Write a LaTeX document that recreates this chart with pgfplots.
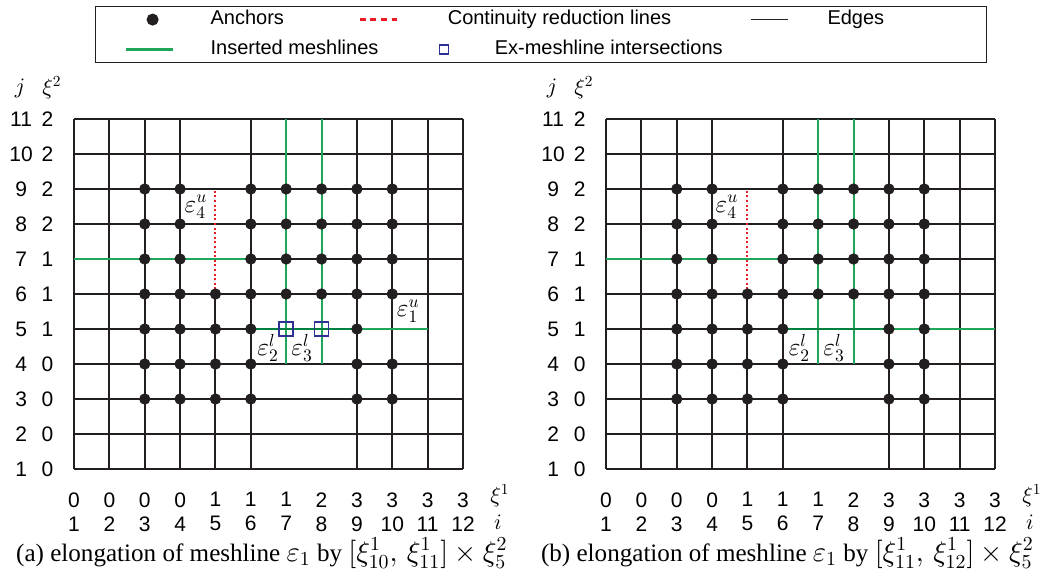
\documentclass[border=0pt]{standalone}
\usepackage[no-math]{fontspec}
\setmainfont{Liberation Serif}
\newfontfamily\sansf{Liberation Sans}
\DeclareFontShape{OML}{cmm}{m}{it}{<->cmmi10}{}
\DeclareFontShape{OMS}{cmsy}{m}{n}{<->cmsy10}{}
\DeclareFontShape{OT1}{cmr}{m}{n}{<->cmr10}{}
\DeclareFontShape{OMX}{cmex}{m}{n}{<->cmex10}{}
\usepackage{pgfplots}
\pgfplotsset{compat=1.18}
\definecolor{edgec}{HTML}{231F20}
\definecolor{insc}{HTML}{1FA65A}
\definecolor{insdark}{HTML}{00803F}
\definecolor{redc}{HTML}{ED1C24}
\definecolor{bluec}{HTML}{2E3192}
\newcommand{\yl}[2]{\makebox[20.5pt][c]{#1}\makebox[6pt][c]{#2}}
\newcommand{\capmath}[1]{{\fontsize{14.2}{16}\selectfont$#1$}}
\pgfplotsset{
  meshaxis/.style={
    scale only axis, width=194.5pt, height=175pt,
    xmin=1, xmax=12, ymin=1, ymax=11,
    axis line style={draw=none}, tick style={draw=none}, major tick length=0pt,
    clip=false, unbounded coords=jump,
    xtick={1,...,12}, ytick={1,...,11},
    xticklabels={{0\\1},{0\\2},{0\\3},{0\\4},{1\\5},{1\\6},{1\\7},{2\\8},{3\\9},{3\\10},{3\\11},{3\\12}},
    yticklabels={{\yl{1}{0}},{\yl{2}{0}},{\yl{3}{0}},{\yl{4}{0}},{\yl{5}{1}},{\yl{6}{1}},{\yl{7}{1}},{\yl{8}{2}},{\yl{9}{2}},{\yl{10}{2}},{\yl{11}{2}}},
    ticklabel style={font=\fontsize{10.5}{12}\sansf, inner sep=0pt},
    xticklabel style={align=center, anchor=north, yshift=-11.5pt},
    yticklabel style={anchor=east, xshift=-10pt},
    edge/.style={color=edgec, line width=1pt, no markers},
    ins/.style={color=insc, line width=1pt, no markers},
    insd/.style={color=insdark, line width=1.3pt, no markers},
    crl/.style={color=redc, line width=1pt, dash pattern=on 1pt off 1.3pt, no markers},
    anc/.style={only marks, mark=*, mark size=2.6pt, color=edgec},
    exm/.style={only marks, mark=square, mark size=3.5pt, color=bluec, mark options={line width=0.7pt}},
  }
}
\begin{document}
\begin{tikzpicture}
\path[use as bounding box] (0pt,0pt) rectangle (521pt,-287.5pt);
% ---------------- (a) ----------------
\begin{axis}[meshaxis, at={(37pt,-234.5pt)}, anchor=south west,
  legend columns=3, legend cell align=left,
  legend style={at={(0.054,1.3229)}, anchor=north west, inner xsep=0pt, inner ysep=0.5pt,
    draw=edgec, line width=0.6pt, row sep=3pt, column sep=0pt,
    nodes={draw=none, fill=none, inner sep=0pt, text height=8.4pt, text depth=3.6pt},
    font=\fontsize{10}{12}\sansf}]
\addlegendimage{legend image code/.code={\path[draw=none,fill=none] (0pt,-6pt) rectangle (57.5pt,6pt);
  \draw[only marks, mark=*, mark size=2.7pt, color=edgec] plot coordinates {(28.5pt,0pt)};}}
\addlegendentry{\makebox[74pt][l]{Anchors}}
\addlegendimage{legend image code/.code={\path[draw=none,fill=none] (0pt,-6pt) rectangle (42.5pt,6pt);
  \draw[color=redc, line width=1.2pt, dash pattern=on 3pt off 2.3pt] (-1.5pt,0pt) -- (17pt,0pt);}}
\addlegendentry{\makebox[151pt][l]{Continuity reduction lines}}
\addlegendimage{legend image code/.code={\path[draw=none,fill=none] (0pt,-6pt) rectangle (36.5pt,6pt);
  \draw[color=edgec, line width=0.7pt] (-2pt,0pt) -- (16.5pt,0pt);}}
\addlegendentry{\makebox[79.5pt][l]{Edges}}
\addlegendimage{legend image code/.code={\path[draw=none,fill=none] (0pt,-6pt) rectangle (57.5pt,6pt);
  \draw[color=insc, line width=1.3pt] (15pt,0pt) -- (38.5pt,0pt);}}
\addlegendentry{\makebox[74pt][l]{Inserted meshlines}}
\addlegendimage{legend image code/.code={\path[draw=none,fill=none] (0pt,-6pt) rectangle (42.5pt,6pt);
  \begin{scope}[overlay]\draw[only marks, mark=square, mark size=2.2pt, color=bluec, line width=0.7pt] plot coordinates {(40.5pt,0pt)};\end{scope}}}
\addlegendentry{\makebox[151pt][l]{\hspace*{23.5pt}Ex-meshline intersections}}
% edges
\addplot[edge, forget plot] coordinates {
(1,1)(1,11) (nan,nan) (2,1)(2,11) (nan,nan) (3,1)(3,11) (nan,nan) (4,1)(4,11) (nan,nan)
(5,1)(5,6) (nan,nan) (6,1)(6,11) (nan,nan) (9,1)(9,11) (nan,nan) (10,1)(10,11) (nan,nan)
(11,1)(11,11) (nan,nan) (12,1)(12,11) (nan,nan)
(1,1)(12,1) (nan,nan) (1,2)(12,2) (nan,nan) (1,3)(12,3) (nan,nan) (1,4)(12,4) (nan,nan)
(1,5)(6,5) (nan,nan) (1,6)(12,6) (nan,nan) (6,7)(12,7) (nan,nan) (1,8)(12,8) (nan,nan)
(1,9)(12,9) (nan,nan) (1,10)(12,10) (nan,nan) (1,11)(12,11)
};
\addplot[edge, line width=1.4pt, forget plot] coordinates {(6,2)(8,2)};
% inserted meshlines
\addplot[ins, forget plot] coordinates {
(1,7)(6,7) (nan,nan) (7,4)(7,11) (nan,nan) (8,4)(8,11) (nan,nan) (9,5)(11,5)
};
\addplot[insd, forget plot] coordinates {(6,5)(9,5)};
% continuity reduction line
\addplot[crl, forget plot] coordinates {(5,6)(5,9)};
% anchors
\addplot[anc, forget plot] coordinates {
(3,9)(4,9)(6,9)(7,9)(8,9)(9,9)(10,9)
(3,8)(4,8)(6,8)(7,8)(8,8)(9,8)(10,8)
(3,7)(4,7)(6,7)(7,7)(8,7)(9,7)(10,7)
(3,6)(4,6)(5,6)(6,6)(7,6)(8,6)(9,6)(10,6)
(3,5)(4,5)(5,5)(6,5)(9,5)
(3,4)(4,4)(5,4)(6,4)(9,4)(10,4)
(3,3)(4,3)(5,3)(6,3)(9,3)(10,3)
};
% ex-meshline intersections
\addplot[exm, forget plot] coordinates {(7,5)(8,5)};
\node[font=\fontsize{12.5}{14}\selectfont] at (axis cs:4.45,8.49) {$\varepsilon_4^u$};
\node[font=\fontsize{12.5}{14}\selectfont] at (axis cs:6.49,4.46) {$\varepsilon_2^l$};
\node[font=\fontsize{12.5}{14}\selectfont] at (axis cs:7.45,4.46) {$\varepsilon_3^l$};
\node[font=\fontsize{12.5}{14}\selectfont] at (axis cs:10.45,5.51) {$\varepsilon_1^u$};
\node[font=\fontsize{11}{13}\selectfont] at (rel axis cs:-0.139,1.0886) {$j$};
\node[font=\fontsize{11}{13}\selectfont] at (rel axis cs:-0.0566,1.0886) {$\xi^2$};
\node[font=\fontsize{11}{13}\selectfont] at (rel axis cs:1.095,-0.075) {$\xi^1$};
\node[font=\fontsize{11}{13}\selectfont] at (rel axis cs:1.09,-0.152) {$i$};
\node[font=\fontsize{12.55}{15}\selectfont] at (rel axis cs:0.483,-0.24)
  {(a) elongation of meshline \capmath{\varepsilon_1} by \capmath{\bigl[\xi^1_{10},\,\xi^1_{11}\bigr]\times\xi^2_5}};
\end{axis}
% ---------------- (b) ----------------
\begin{axis}[meshaxis, at={(303pt,-234.5pt)}, anchor=south west]
\addplot[edge, forget plot] coordinates {
(1,1)(1,11) (nan,nan) (2,1)(2,11) (nan,nan) (3,1)(3,11) (nan,nan) (4,1)(4,11) (nan,nan)
(5,1)(5,6) (nan,nan) (6,1)(6,11) (nan,nan) (9,1)(9,11) (nan,nan) (10,1)(10,11) (nan,nan)
(11,1)(11,11) (nan,nan) (12,1)(12,11) (nan,nan)
(1,1)(12,1) (nan,nan) (1,2)(12,2) (nan,nan) (1,3)(12,3) (nan,nan) (1,4)(12,4) (nan,nan)
(1,5)(6,5) (nan,nan) (1,6)(12,6) (nan,nan) (6,7)(12,7) (nan,nan) (1,8)(12,8) (nan,nan)
(1,9)(12,9) (nan,nan) (1,10)(12,10) (nan,nan) (1,11)(12,11)
};
\addplot[edge, line width=1.4pt, forget plot] coordinates {(6,2)(8,2)};
\addplot[ins, forget plot] coordinates {
(1,7)(6,7) (nan,nan) (7,4)(7,11) (nan,nan) (8,4)(8,11) (nan,nan) (9,5)(12,5)
};
\addplot[insd, forget plot] coordinates {(6,5)(9,5)};
\addplot[crl, forget plot] coordinates {(5,6)(5,9)};
\addplot[anc, forget plot] coordinates {
(3,9)(4,9)(6,9)(7,9)(8,9)(9,9)(10,9)
(3,8)(4,8)(6,8)(7,8)(8,8)(9,8)(10,8)
(3,7)(4,7)(6,7)(7,7)(8,7)(9,7)(10,7)
(3,6)(4,6)(5,6)(6,6)(7,6)(8,6)(9,6)(10,6)
(3,5)(4,5)(5,5)(6,5)(9,5)(10,5)
(3,4)(4,4)(5,4)(6,4)(9,4)(10,4)
(3,3)(4,3)(5,3)(6,3)(9,3)(10,3)
};
\node[font=\fontsize{12.5}{14}\selectfont] at (axis cs:4.42,8.49) {$\varepsilon_4^u$};
\node[font=\fontsize{12.5}{14}\selectfont] at (axis cs:6.47,4.46) {$\varepsilon_2^l$};
\node[font=\fontsize{12.5}{14}\selectfont] at (axis cs:7.45,4.46) {$\varepsilon_3^l$};
\node[font=\fontsize{11}{13}\selectfont] at (rel axis cs:-0.139,1.0886) {$j$};
\node[font=\fontsize{11}{13}\selectfont] at (rel axis cs:-0.0566,1.0886) {$\xi^2$};
\node[font=\fontsize{11}{13}\selectfont] at (rel axis cs:1.095,-0.075) {$\xi^1$};
\node[font=\fontsize{11}{13}\selectfont] at (rel axis cs:1.09,-0.152) {$i$};
\node[font=\fontsize{12.55}{15}\selectfont] at (rel axis cs:0.4665,-0.24)
  {(b) elongation of meshline \capmath{\varepsilon_1} by \capmath{\bigl[\xi^1_{11},\,\xi^1_{12}\bigr]\times\xi^2_5}};
\end{axis}
\end{tikzpicture}
\end{document}
